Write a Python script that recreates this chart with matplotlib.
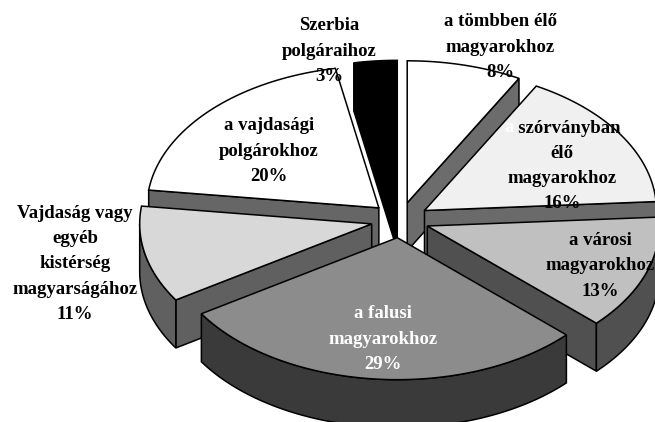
import matplotlib
matplotlib.use("Agg")
import matplotlib.pyplot as plt
from matplotlib.patches import Polygon
import numpy as np

# Dati
labels = ["a tömbben élő\nmagyarokhoz\n8%",
          "   szórványban\nélő\nmagyarokhoz\n16%",
          "a városi\nmagyarokhoz\n13%",
          "a falusi\nmagyarokhoz\n29%",
          "Vajdaság vagy\negyéb\nkistérség\nmagyarságához\n11%",
          "a vajdasági\npolgárokhoz\n20%",
          "Szerbia\npolgáraihoz\n3%"]
values = [8, 16, 13, 29, 11, 20, 3]

# Stile
top_colors = ["#ffffff", "#f0f0f0", "#c0c0c0", "#8c8c8c", "#d8d8d8", "#ffffff", "#000000"]
wall_colors = ["#6c6c6c", "#6a6a6a", "#505050", "#3a3a3a", "#606060", "#666666", "#000000"]
text_colors = ["black", "black", "black", "white", "black", "black", "black"]
label_pos = [(500, 47), (562, 166), (600, 266), (383, 339), (75, 264), (269, 151), (329, 51)]
draw_order = [5, 6, 0, 1, 4, 2, 3]

cx, cy = 400, 220
rx, ry = 232, 142
explode = 0.125
depth = 48
font_size = 13.5
line_sp = 1.63


def pt(a, ox, oy):
    return ox + rx * np.sin(a), oy - ry * np.cos(a)


fig = plt.figure(figsize=(6.55, 4.22), dpi=100)
ax = fig.add_axes([0, 0, 1, 1])
ax.set_xlim(0, 655)
ax.set_ylim(422, 0)
ax.axis("off")

edges = np.cumsum([0] + values) / sum(values) * 2 * np.pi

for i in draw_order:
    a0, a1 = edges[i], edges[i + 1]
    mid = (a0 + a1) / 2
    ox = cx + explode * rx * np.sin(mid)
    oy = cy - explode * ry * np.cos(mid)

    # facce di taglio visibili
    for a, visible in [(a0, np.sin(a0) < 0), (a1, np.sin(a1) > 0)]:
        if visible:
            x, y = pt(a, ox, oy)
            ax.add_patch(Polygon([(ox, oy), (x, y), (x, y + depth), (ox, oy + depth)],
                                 closed=True, fc=wall_colors[i], ec="black", lw=1.1))

    # parete esterna
    w0, w1 = max(a0, np.pi / 2), min(a1, 3 * np.pi / 2)
    if w1 > w0:
        t = np.linspace(w0, w1, 80)
        x, y = pt(t, ox, oy)
        wall = np.r_[np.c_[x, y], np.c_[x, y + depth][::-1]]
        ax.add_patch(Polygon(wall, closed=True, fc=wall_colors[i], ec="black", lw=1.1))

    # faccia superiore
    t = np.linspace(a0, a1, 120)
    x, y = pt(t, ox, oy)
    top = np.r_[[(ox, oy)], np.c_[x, y]]
    ax.add_patch(Polygon(top, closed=True, fc=top_colors[i], ec="black", lw=1.1))

for lab, (x, y), c in zip(labels, label_pos, text_colors):
    ax.text(x, y, lab, ha="center", va="center", color=c, fontsize=font_size, fontweight="bold",
            family="Liberation Serif", linespacing=line_sp)

# la "a" bianca del secondo slice
ax.text(509, 127, "a", ha="center", va="center", color="white", fontsize=font_size,
        fontweight="bold", family="Liberation Serif")

fig.savefig("out.png", dpi=100, facecolor="white")
